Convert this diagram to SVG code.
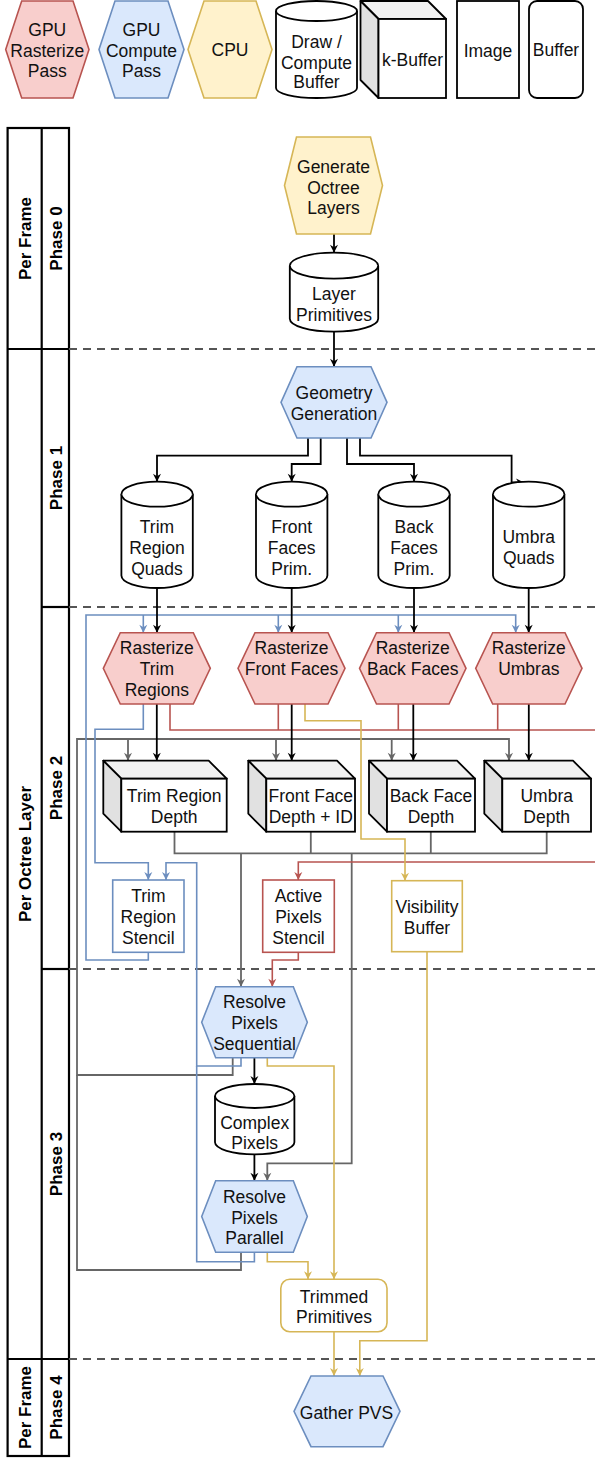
<svg xmlns="http://www.w3.org/2000/svg" width="595" height="1458" viewBox="0 0 595 1458">
<defs>
<style>
.t{font-family:"Liberation Sans",Arial,Helvetica,sans-serif;font-size:17.5px;fill:#111;text-anchor:middle}
.lb{font-weight:bold;fill:#000;font-size:17px}
.raster{fill:#f8cecc;stroke:#b85450;stroke-width:1.6}
.compute{fill:#dae8fc;stroke:#6c8ebf;stroke-width:1.6}
.cpu{fill:#fff2cc;stroke:#d6b656;stroke-width:1.6}
.blk{fill:#fff;stroke:#000;stroke-width:1.8}
.ctop{fill:#f1f1f1;stroke:#000;stroke-width:1.8;stroke-linejoin:round}
.cside{fill:#e1e1e1;stroke:#000;stroke-width:1.8;stroke-linejoin:round}
.lane{fill:none;stroke:#000;stroke-width:2.2}
.dash{fill:none;stroke:#555;stroke-width:2;stroke-dasharray:8 6}
.ck{fill:none;stroke:#000;stroke-width:1.8}
.cg{fill:none;stroke:#666;stroke-width:1.8}
.cb{fill:none;stroke:#6c8ebf;stroke-width:1.6}
.cr{fill:none;stroke:#b85450;stroke-width:1.6}
.cy{fill:none;stroke:#d6b656;stroke-width:1.6}
.ak{marker-end:url(#ak)}
.ag{marker-end:url(#ag)}
.ab{marker-end:url(#ab)}
.ar{marker-end:url(#ar)}
.ay{marker-end:url(#ay)}
</style>
<marker id="ak" markerUnits="userSpaceOnUse" markerWidth="10" markerHeight="10" viewBox="0 0 10 10" refX="9" refY="5" orient="auto"><path d="M1,1 L9,5 L1,9 L3.5,5 Z" fill="#000"/></marker>
<marker id="ag" markerUnits="userSpaceOnUse" markerWidth="10" markerHeight="10" viewBox="0 0 10 10" refX="9" refY="5" orient="auto"><path d="M1,1 L9,5 L1,9 L3.5,5 Z" fill="#666"/></marker>
<marker id="ab" markerUnits="userSpaceOnUse" markerWidth="10" markerHeight="10" viewBox="0 0 10 10" refX="9" refY="5" orient="auto"><path d="M1,1 L9,5 L1,9 L3.5,5 Z" fill="#6c8ebf"/></marker>
<marker id="ar" markerUnits="userSpaceOnUse" markerWidth="10" markerHeight="10" viewBox="0 0 10 10" refX="9" refY="5" orient="auto"><path d="M1,1 L9,5 L1,9 L3.5,5 Z" fill="#b85450"/></marker>
<marker id="ay" markerUnits="userSpaceOnUse" markerWidth="10" markerHeight="10" viewBox="0 0 10 10" refX="9" refY="5" orient="auto"><path d="M1,1 L9,5 L1,9 L3.5,5 Z" fill="#d6b656"/></marker>
</defs>
<rect x="0" y="0" width="595" height="1458" fill="#fff"/>

<!-- Legend -->
<g id="legend">
<g id="legend-raster"><polygon class="raster" points="5.7,49.5 21.7,1 73,1 89,49.5 73,98 21.7,98"/>
<text class="t" x="47.3" y="36">GPU</text><text class="t" x="47.3" y="56.5">Rasterize</text><text class="t" x="47.3" y="77">Pass</text></g>
<g id="legend-compute"><polygon class="compute" points="99,49.5 115,1 168,1 184,49.5 168,98 115,98"/>
<text class="t" x="141.5" y="36">GPU</text><text class="t" x="141.5" y="56.5">Compute</text><text class="t" x="141.5" y="77">Pass</text></g>
<g id="legend-cpu"><polygon class="cpu" points="188,49.5 204,1 256,1 272,49.5 256,98 204,98"/>
<text class="t" x="230" y="56">CPU</text></g>
<g id="legend-buffer-cyl"><path class="blk" d="M276,11 A40.5,10 0 0 1 357,11 V88 A40.5,10 0 0 1 276,88 Z"/><path class="blk" fill="none" d="M276,11 A40.5,10 0 0 0 357,11"/>
<text class="t" x="316.5" y="47.7">Draw /</text><text class="t" x="316.5" y="68.7">Compute</text><text class="t" x="316.5" y="88">Buffer</text></g>
<g id="legend-kbuffer"><polygon class="ctop" points="360.5,1 428,1 446,19 378.5,19"/><polygon class="cside" points="360.5,1 378.5,19 378.5,98 360.5,80"/><rect class="blk" x="378.5" y="19" width="67.5" height="79"/>
<text class="t" x="412.5" y="66">k-Buffer</text></g>
<g id="legend-image"><rect class="blk" x="457" y="1" width="62" height="97"/><text class="t" x="488" y="56.5">Image</text></g>
<g id="legend-buf"><rect class="blk" x="529" y="1" width="54" height="97" rx="8"/><text class="t" x="556" y="56">Buffer</text></g>
</g>

<!-- Lanes -->
<g id="lanes">
<rect class="lane" x="7.6" y="128" width="61.4" height="1328"/>
<line class="lane" x1="41.7" y1="128" x2="41.7" y2="1456"/>
<line class="lane" x1="7.6" y1="349" x2="69" y2="349"/>
<line class="lane" x1="7.6" y1="1359" x2="69" y2="1359"/>
<line class="lane" x1="41.7" y1="607" x2="69" y2="607"/>
<line class="lane" x1="41.7" y1="969" x2="69" y2="969"/>
<line class="dash" x1="69" y1="349" x2="595" y2="349"/>
<line class="dash" x1="69" y1="607" x2="595" y2="607"/>
<line class="dash" x1="69" y1="969" x2="595" y2="969"/>
<line class="dash" x1="69" y1="1359" x2="595" y2="1359"/>
<text class="t lb" transform="translate(31,238.5) rotate(-90)">Per Frame</text>
<text class="t lb" transform="translate(61.5,238.5) rotate(-90)">Phase 0</text>
<text class="t lb" transform="translate(31,854) rotate(-90)">Per Octree Layer</text>
<text class="t lb" transform="translate(61.5,478) rotate(-90)">Phase 1</text>
<text class="t lb" transform="translate(61.5,788) rotate(-90)">Phase 2</text>
<text class="t lb" transform="translate(61.5,1164) rotate(-90)">Phase 3</text>
<text class="t lb" transform="translate(31,1407.5) rotate(-90)">Per Frame</text>
<text class="t lb" transform="translate(61.5,1407.5) rotate(-90)">Phase 4</text>
</g>

<!-- Connectors -->
<g id="connectors">
<path class="cg ag" d="M232.7,1057.7 V1075 H77 V739 H509 V760.7"/>
<path class="cg ag" d="M128,739 V760.7"/>
<path class="cg ag" d="M276,739 V760.7"/>
<path class="cg ag" d="M391.7,739 V760.7"/>
<path class="cg" d="M241,1252.3 V1270 H77 V1075"/>
<path class="cg" d="M174.5,831.7 V853.3 H546.7 V831.7 M310.8,831.7 V853.3 M430.8,831.7 V853.3"/>
<path class="cg ag" d="M241,853.3 V986.7"/>
<path class="cg ag" d="M351.7,853.3 V1163.3 H267.3 V1180.7"/>
<path class="cb ab" d="M148.3,952.3 V960 H86 V615 H515.7 V632.7"/>
<path class="cb ab" d="M143.3,615 V632.7"/>
<path class="cb ab" d="M278.3,615 V632.7"/>
<path class="cb ab" d="M398.3,615 V632.7"/>
<path class="cb ab" d="M143.3,704 V729.3 H95 V862.7 H148.3 V880"/>
<path class="cb ab" d="M241,1057.7 V1066 H196.7 V862.7 H166 V880"/>
<path class="cb" d="M254.4,1252.3 V1261.7 H196.7 V1066"/>
<path class="cr ar" d="M170,704 V730 H600 V862 H298.3 V880"/>
<path class="cr" d="M278.3,704 V730 M398.3,704 V730 M497.7,704 V730"/>
<path class="cr ar" d="M298.3,952.3 V960 H272.3 V986.7"/>
<path class="cy ay" d="M305,704 V720.7 H361 V839 H405 V880.7"/>
<path class="cy ay" d="M267.3,1057.7 V1066 H334 V1279.3"/>
<path class="cy ay" d="M267.3,1252.3 V1261.7 H308 V1279.3"/>
<path class="cy ay" d="M427,951.7 V1340.7 H359.8 V1376"/>
<path class="cy ay" d="M334,1331.7 V1376"/>
<path class="ck ak" d="M334,234 V252.7"/>
<path class="ck ak" d="M334,331.7 V366.7"/>
<path class="ck ak" d="M308,438 V455.7 H157 V481.7"/>
<path class="ck ak" d="M320.7,438 V464 H291.7 V481.7"/>
<path class="ck ak" d="M347,438 V464 H414 V481.7"/>
<path class="ck ak" d="M360,438 V455.7 H511.6 V482.5 H524"/>
<path class="ck ak" d="M157,588 V632.7"/>
<path class="ck ak" d="M291.7,588 V632.7"/>
<path class="ck ak" d="M414,588 V632.7"/>
<path class="ck ak" d="M528.7,588 V632.7"/>
<path class="ck ak" d="M156.8,704 V760.7"/>
<path class="ck ak" d="M291.7,704 V760.7"/>
<path class="ck ak" d="M413.3,704 V760.7"/>
<path class="ck ak" d="M528.8,704 V760.7"/>
<path class="ck ak" d="M254.4,1057.7 V1084"/>
<path class="ck ak" d="M254.4,1154.3 V1180.7"/>
</g>

<!-- Nodes -->
<g id="generate-octree-layers"><polygon class="cpu" points="284.5,185.5 296.5,137 370.5,137 382.5,185.5 370.5,234 296.5,234"/>
<text class="t" x="333.5" y="172.7">Generate</text><text class="t" x="333.5" y="193.7">Octree</text><text class="t" x="333.5" y="214">Layers</text></g>

<g id="layer-primitives"><path class="blk" d="M289.8,265.7 A44.2,13 0 0 1 378.2,265.7 V318.7 A44.2,13 0 0 1 289.8,318.7 Z"/><path class="blk" fill="none" d="M289.8,265.7 A44.2,13 0 0 0 378.2,265.7"/>
<text class="t" x="334" y="300">Layer</text><text class="t" x="334" y="321">Primitives</text></g>

<g id="geometry-generation"><polygon class="compute" points="281,402.3 297,366.7 371,366.7 387,402.3 371,438 297,438"/>
<text class="t" x="334" y="399">Geometry</text><text class="t" x="334" y="420">Generation</text></g>

<g id="trim-region-quads"><path class="blk" d="M121.4,494.2 A35.7,12.5 0 0 1 192.8,494.2 V575.5 A35.7,12.5 0 0 1 121.4,575.5 Z"/><path class="blk" fill="none" d="M121.4,494.2 A35.7,12.5 0 0 0 192.8,494.2"/>
<text class="t" x="157" y="532.7">Trim</text><text class="t" x="157" y="554.3">Region</text><text class="t" x="157" y="575.3">Quads</text></g>

<g id="front-faces-prim"><path class="blk" d="M256,494.2 A35.7,12.5 0 0 1 327.4,494.2 V575.5 A35.7,12.5 0 0 1 256,575.5 Z"/><path class="blk" fill="none" d="M256,494.2 A35.7,12.5 0 0 0 327.4,494.2"/>
<text class="t" x="291.7" y="532.7">Front</text><text class="t" x="291.7" y="554.3">Faces</text><text class="t" x="291.7" y="575.3">Prim.</text></g>

<g id="back-faces-prim"><path class="blk" d="M378.3,494.2 A35.7,12.5 0 0 1 449.7,494.2 V575.5 A35.7,12.5 0 0 1 378.3,575.5 Z"/><path class="blk" fill="none" d="M378.3,494.2 A35.7,12.5 0 0 0 449.7,494.2"/>
<text class="t" x="414" y="532.7">Back</text><text class="t" x="414" y="554.3">Faces</text><text class="t" x="414" y="575.3">Prim.</text></g>

<g id="umbra-quads"><path class="blk" d="M493,494.2 A35.7,12.5 0 0 1 564.4,494.2 V575.5 A35.7,12.5 0 0 1 493,575.5 Z"/><path class="blk" fill="none" d="M493,494.2 A35.7,12.5 0 0 0 564.4,494.2"/>
<text class="t" x="528.7" y="543.3">Umbra</text><text class="t" x="528.7" y="564.3">Quads</text></g>

<g id="rasterize-trim-regions"><polygon class="raster" points="103.3,668.3 120.3,632.7 193.3,632.7 210.3,668.3 193.3,704 120.3,704"/>
<text class="t" x="156.8" y="654.3">Rasterize</text><text class="t" x="156.8" y="675">Trim</text><text class="t" x="156.8" y="696">Regions</text></g>

<g id="rasterize-front-faces"><polygon class="raster" points="238,668.3 255,632.7 328,632.7 345,668.3 328,704 255,704"/>
<text class="t" x="291.5" y="654.3">Rasterize</text><text class="t" x="291.5" y="675">Front Faces</text></g>

<g id="rasterize-back-faces"><polygon class="raster" points="359.5,668.3 376.5,632.7 449,632.7 466,668.3 449,704 376.5,704"/>
<text class="t" x="412.7" y="654.3">Rasterize</text><text class="t" x="412.7" y="675">Back Faces</text></g>

<g id="rasterize-umbras"><polygon class="raster" points="475.7,668.3 492.7,632.7 565,632.7 582,668.3 565,704 492.7,704"/>
<text class="t" x="528.8" y="654.3">Rasterize</text><text class="t" x="528.8" y="675">Umbras</text></g>

<g id="trim-region-depth"><polygon class="ctop" points="103.3,760.7 208.7,760.7 226.7,778.7 121.3,778.7"/><polygon class="cside" points="103.3,760.7 121.3,778.7 121.3,831.7 103.3,813.7"/><rect class="blk" x="121.3" y="778.7" width="105.4" height="53"/>
<text class="t" x="174.2" y="801.7">Trim Region</text><text class="t" x="174.2" y="822.7">Depth</text></g>

<g id="front-face-depth-id"><polygon class="ctop" points="248.3,760.7 337,760.7 355,778.7 266.3,778.7"/><polygon class="cside" points="248.3,760.7 266.3,778.7 266.3,831.7 248.3,813.7"/><rect class="blk" x="266.3" y="778.7" width="88.7" height="53"/>
<text class="t" x="310.8" y="801.7">Front Face</text><text class="t" x="310.8" y="822.7">Depth + ID</text></g>

<g id="back-face-depth"><polygon class="ctop" points="369,760.7 457,760.7 475,778.7 387,778.7"/><polygon class="cside" points="369,760.7 387,778.7 387,831.7 369,813.7"/><rect class="blk" x="387" y="778.7" width="88" height="53"/>
<text class="t" x="431" y="801.7">Back Face</text><text class="t" x="431" y="822.7">Depth</text></g>

<g id="umbra-depth"><polygon class="ctop" points="484.3,760.7 573,760.7 591,778.7 502.3,778.7"/><polygon class="cside" points="484.3,760.7 502.3,778.7 502.3,831.7 484.3,813.7"/><rect class="blk" x="502.3" y="778.7" width="88.7" height="53"/>
<text class="t" x="546.7" y="801.7">Umbra</text><text class="t" x="546.7" y="822.7">Depth</text></g>

<g id="trim-region-stencil"><rect x="112.7" y="880" width="71.3" height="72.3" fill="#fff" stroke="#6c8ebf" stroke-width="1.6"/>
<text class="t" x="148.3" y="901.7">Trim</text><text class="t" x="148.3" y="923">Region</text><text class="t" x="148.3" y="944">Stencil</text></g>

<g id="active-pixels-stencil"><rect x="262.7" y="880" width="71.6" height="72.3" fill="#fff" stroke="#b85450" stroke-width="1.6"/>
<text class="t" x="298.5" y="901.7">Active</text><text class="t" x="298.5" y="923">Pixels</text><text class="t" x="298.5" y="944">Stencil</text></g>

<g id="visibility-buffer"><rect x="391.7" y="880.7" width="70.6" height="71" fill="#fff" stroke="#d6b656" stroke-width="1.6"/>
<text class="t" x="427" y="912.7">Visibility</text><text class="t" x="427" y="933.7">Buffer</text></g>

<g id="resolve-pixels-sequential"><polygon class="compute" points="201.7,1022.2 215.7,986.7 293.3,986.7 307.3,1022.2 293.3,1057.7 215.7,1057.7"/>
<text class="t" x="254.5" y="1008.3">Resolve</text><text class="t" x="254.5" y="1028.7">Pixels</text><text class="t" x="254.5" y="1050.3">Sequential</text></g>

<g id="complex-pixels"><path class="blk" d="M215,1096 A39.7,12 0 0 1 294.4,1096 V1142.3 A39.7,12 0 0 1 215,1142.3 Z"/><path class="blk" fill="none" d="M215,1096 A39.7,12 0 0 0 294.4,1096"/>
<text class="t" x="254.7" y="1128.7">Complex</text><text class="t" x="254.7" y="1148.7">Pixels</text></g>

<g id="resolve-pixels-parallel"><polygon class="compute" points="201.7,1216.5 215.7,1180.7 293.3,1180.7 307.3,1216.5 293.3,1252.3 215.7,1252.3"/>
<text class="t" x="254.5" y="1203.3">Resolve</text><text class="t" x="254.5" y="1223.7">Pixels</text><text class="t" x="254.5" y="1244.3">Parallel</text></g>

<g id="trimmed-primitives"><rect x="280.8" y="1279.3" width="106.2" height="52.4" rx="9" fill="#fff" stroke="#d6b656" stroke-width="1.6"/>
<text class="t" x="334" y="1302.7">Trimmed</text><text class="t" x="334" y="1322.7">Primitives</text></g>

<g id="gather-pvs"><polygon class="compute" points="294,1411.3 311,1376 383,1376 400,1411.3 383,1446.7 311,1446.7"/>
<text class="t" x="346.5" y="1419">Gather PVS</text></g>
</svg>
